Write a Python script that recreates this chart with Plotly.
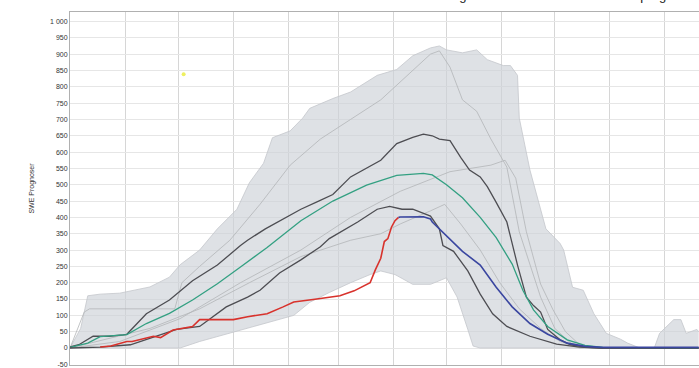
import pandas as pd
import plotly.graph_objects as go

SEASON_START = "2020-10-01"
Y_TICKS = list(range(-50, 1001, 50))
Y_TICK_TEXT = [("1 000" if v == 1000 else str(v)) for v in Y_TICKS]

# day-of-season, value pairs
band_max_days = [0, 3, 6, 10, 17, 28, 45, 56, 62, 73, 83, 94, 101, 109, 114, 124, 131, 135, 148, 158, 173, 184, 193, 203, 208, 212, 221, 229, 235, 244, 248, 252, 253, 259, 268, 276, 278, 283, 289, 295, 302, 310, 314, 321, 329, 332, 340, 344, 347, 353, 354]
band_max_vals = [0, 30, 60, 160, 165, 168, 187, 217, 255, 300, 365, 425, 506, 566, 644, 665, 704, 734, 764, 784, 835, 853, 895, 919, 925, 913, 904, 913, 883, 865, 865, 835, 704, 545, 365, 320, 300, 186, 177, 105, 45, 27, 15, 0, 0, 45, 87, 87, 45, 57, 50]

band_min_days = [0, 62, 73, 90, 107, 126, 135, 146, 158, 169, 175, 183, 193, 203, 212, 218, 224, 227, 231, 354]
band_min_vals = [0, 0, 20, 45, 70, 100, 140, 170, 200, 225, 236, 225, 195, 195, 215, 156, 57, 6, 0, 0]

member1_days = [0, 8, 11, 59, 63, 73, 90, 107, 124, 141, 158, 175, 191, 203, 208, 214, 221, 229, 237, 246, 253, 259, 265, 273, 282, 293, 354]
member1_vals = [0, 110, 120, 120, 200, 250, 330, 440, 560, 640, 700, 760, 840, 900, 910, 860, 760, 725, 640, 554, 356, 254, 156, 60, 15, 0, 0]

member2_days = [0, 28, 62, 96, 130, 158, 186, 214, 237, 245, 251, 257, 265, 272, 279, 287, 298, 354]
member2_vals = [0, 20, 90, 200, 300, 400, 480, 540, 560, 575, 520, 356, 196, 117, 50, 10, 0, 0]

member3_days = [0, 23, 45, 73, 101, 130, 158, 175, 186, 203, 211, 220, 231, 242, 253, 265, 276, 287, 354]
member3_vals = [0, 30, 60, 120, 200, 280, 330, 350, 380, 420, 440, 380, 300, 200, 120, 60, 20, 0, 0]

p90_days = [0, 5, 13, 22, 30, 32, 43, 56, 69, 83, 96, 100, 110, 120, 130, 140, 148, 158, 167, 175, 184, 193, 199, 204, 208, 214, 220, 225, 231, 235, 240, 246, 252, 257, 261, 263, 265, 269, 276, 282, 290, 300, 354]
p90_vals = [3, 10, 36, 36, 40, 42, 105, 147, 206, 254, 314, 330, 365, 395, 425, 450, 470, 524, 550, 575, 626, 645, 655, 650, 640, 635, 584, 545, 524, 494, 446, 386, 254, 156, 130, 120, 110, 57, 25, 10, 3, 0, 0]

median_days = [0, 10, 17, 32, 43, 56, 69, 83, 96, 107, 111, 130, 148, 167, 184, 199, 204, 212, 221, 231, 240, 249, 255, 261, 269, 280, 290, 300, 354]
median_vals = [2, 15, 35, 41, 75, 106, 147, 197, 248, 293, 308, 390, 450, 499, 529, 535, 530, 500, 460, 400, 338, 257, 177, 117, 66, 25, 8, 2, 0]

p10_days = [0, 17, 34, 45, 56, 60, 73, 88, 100, 107, 118, 130, 141, 146, 162, 173, 180, 187, 193, 203, 208, 210, 216, 224, 231, 238, 246, 259, 274, 287, 298, 354]
p10_vals = [0, 3, 10, 30, 50, 57, 66, 126, 156, 177, 230, 270, 310, 335, 386, 425, 434, 425, 425, 404, 365, 314, 296, 236, 165, 105, 66, 36, 12, 3, 0, 0]

observed_days = [17, 23, 32, 35, 47, 51, 58, 69, 73, 92, 100, 111, 120, 126, 139, 152, 160, 166, 169, 172, 175, 177, 179, 181, 183, 185]
observed_vals = [3, 6, 20, 20, 36, 32, 55, 66, 87, 87, 96, 105, 126, 141, 150, 160, 175, 190, 200, 240, 275, 326, 335, 370, 390, 400]

forecast_days = [185, 186, 199, 203, 204, 212, 221, 231, 240, 249, 259, 269, 280, 290, 300, 354]
forecast_vals = [400, 401, 402, 395, 386, 344, 296, 254, 186, 126, 75, 42, 15, 5, 2, 2]

marker_days = [64]
marker_vals = [838]

start = pd.Timestamp(SEASON_START)


def d(days):
    return [start + pd.Timedelta(days=x) for x in days]


fig = go.Figure()

fig.add_trace(go.Scatter(x=d(band_min_days), y=band_min_vals, mode="lines",
                         line=dict(color="#c4c7cc", width=0.8), showlegend=False))
fig.add_trace(go.Scatter(x=d(band_max_days), y=band_max_vals, mode="lines",
                         line=dict(color="#c4c7cc", width=0.8), fill="tonexty",
                         fillcolor="rgba(205,209,215,0.65)", showlegend=False))

for dd, vv in [(member1_days, member1_vals), (member2_days, member2_vals), (member3_days, member3_vals)]:
    fig.add_trace(go.Scatter(x=d(dd), y=vv, mode="lines",
                             line=dict(color="#b3b5b8", width=0.8), showlegend=False))

fig.add_trace(go.Scatter(x=d(p90_days), y=p90_vals, mode="lines",
                         line=dict(color="#4d4d52", width=1.3), showlegend=False))
fig.add_trace(go.Scatter(x=d(median_days), y=median_vals, mode="lines",
                         line=dict(color="#33a082", width=1.3), showlegend=False))
fig.add_trace(go.Scatter(x=d(p10_days), y=p10_vals, mode="lines",
                         line=dict(color="#4d4d52", width=1.3), showlegend=False))
fig.add_trace(go.Scatter(x=d(observed_days), y=observed_vals, mode="lines",
                         line=dict(color="#d8322c", width=1.6), showlegend=False))
fig.add_trace(go.Scatter(x=d(forecast_days), y=forecast_vals, mode="lines",
                         line=dict(color="#3a46a0", width=1.6), showlegend=False))
fig.add_trace(go.Scatter(x=d(marker_days), y=marker_vals, mode="markers",
                         marker=dict(color="#eef060", size=4), showlegend=False))

fig.update_layout(
    width=699, height=368,
    margin=dict(l=70, r=0, t=12, b=0),
    paper_bgcolor="white", plot_bgcolor="white",
    font=dict(family="Liberation Sans, Arial, sans-serif", color="#333"),
    annotations=[dict(text="Snömagasin Ströms Vattudal  –  SWE prognos", xref="paper", yref="paper",
                      x=0.55, y=1.0, yshift=7, xanchor="left", yanchor="bottom",
                      showarrow=False, font=dict(size=13, color="#222"))],
)
fig.update_xaxes(
    type="date",
    range=[start, start + pd.Timedelta(days=354.2)],
    showticklabels=False, ticks="",
    dtick="M1", tick0=SEASON_START,
    showgrid=True, gridcolor="#d6d6d6", gridwidth=1,
    showline=True, linecolor="#b0b0b0", linewidth=1, mirror=True,
    zeroline=False,
)
fig.update_yaxes(
    range=[-52, 1029],
    tickvals=Y_TICKS, ticktext=Y_TICK_TEXT,
    tickfont=dict(size=7, color="#333"),
    ticklabeloverflow="allow",
    showgrid=True, gridcolor="#e6e6e6", gridwidth=1,
    showline=True, linecolor="#b0b0b0", linewidth=1,
    zeroline=False, ticks="",
    title=dict(text="SWE Prognoser", font=dict(size=7, color="#333"), standoff=14),
)

fig.write_html("out.html",
               config={"displayModeBar": False},
               post_script="document.body.style.margin='0';document.body.style.overflow='hidden';")
